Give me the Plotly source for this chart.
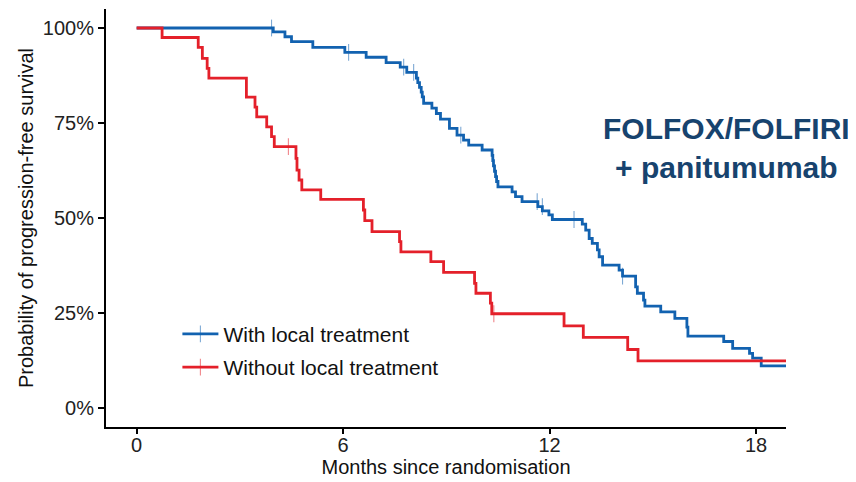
import plotly.graph_objects as go

# ---- data (months, % progression-free) ----
blue_t = [0, 3.97, 4.31, 4.50, 5.12, 6.05, 6.67, 7.25, 7.66, 7.85, 8.13, 8.17, 8.22, 8.27, 8.30,
          8.34, 8.58, 8.71, 8.83, 9.09, 9.31, 9.50, 9.65, 10.04, 10.33, 10.35, 10.37, 10.40, 10.43,
          10.46, 10.50, 10.91, 11.01, 11.20, 11.66, 11.79, 11.98, 12.08, 12.95, 13.05, 13.15, 13.24,
          13.39, 13.44, 13.54, 14.02, 14.12, 14.50, 14.55, 14.73, 14.77, 15.23, 15.64, 15.99, 16.02,
          17.06, 17.32, 17.81, 17.90, 18.15, 18.87]
blue_s = [100, 99.0, 97.7, 96.4, 94.9, 93.6, 92.3, 90.9, 89.7, 88.3, 86.8, 85.6, 84.4, 83.1, 81.9,
          80.2, 78.9, 77.5, 76.0, 73.6, 71.8, 70.5, 69.2, 67.9, 66.5, 65.1, 63.7, 62.3, 60.9,
          59.6, 58.2, 56.9, 55.6, 54.3, 53.0, 51.9, 50.8, 49.6, 48.4, 46.8, 44.6, 43.3,
          41.6, 39.8, 37.6, 36.3, 34.7, 31.9, 30.2, 28.4, 26.8, 25.3, 23.6, 21.3, 18.9,
          17.5, 15.7, 14.4, 13.1, 11.1, 11.1]
blue_cens_t = [3.92, 6.16, 7.76, 8.05, 9.42, 11.64, 11.79, 12.71, 14.12]
blue_cens_s = [100, 93.6, 89.7, 88.3, 71.8, 54.3, 53.0, 49.6, 34.7]

red_t = [0, 0.74, 1.79, 1.91, 2.05, 2.10, 3.19, 3.44, 3.49, 3.78, 3.92, 4.00, 4.63, 4.66, 4.72,
         4.80, 5.35, 6.59, 6.63, 6.84, 7.64, 7.68, 8.55, 8.92, 9.82, 9.86, 10.28, 10.32, 12.42,
         12.98, 14.27, 14.57, 18.87]
red_s = [100, 97.5, 94.9, 92.0, 89.4, 86.8, 81.8, 79.2, 76.6, 74.0, 71.4, 68.8, 65.7, 62.6, 60.0,
         57.4, 54.9, 52.1, 49.3, 46.4, 43.8, 41.1, 38.5, 35.7, 32.8, 30.2, 27.6, 24.8, 21.6,
         18.6, 15.4, 12.4, 12.4]
red_cens_t = [4.41, 10.38]
red_cens_s = [68.8, 24.8]

x_ticks = [0, 6, 12, 18]
y_ticks = [0, 25, 50, 75, 100]
y_tick_labels = ["0%", "25%", "50%", "75%", "100%"]

series_names = ["With local treatment", "Without local treatment"]
BLUE = "#1262b0"
RED = "#e4202a"

fig = go.Figure()
for i, (t, s, ct, cs, col, name) in enumerate([
    (blue_t, blue_s, blue_cens_t, blue_cens_s, BLUE, series_names[0]),
    (red_t, red_s, red_cens_t, red_cens_s, RED, series_names[1]),
]):
    fig.add_trace(go.Scatter(x=t, y=s, mode="lines", line=dict(color=col, width=2.8, shape="hv"),
                             showlegend=False, hoverinfo="skip"))
    fig.add_trace(go.Scatter(x=ct, y=cs, mode="markers",
                             marker=dict(symbol="line-ns-open", size=12, color=col,
                                         line=dict(color=col, width=1.1), opacity=0.55),
                             showlegend=False, hoverinfo="skip"))
    fig.add_trace(go.Scatter(x=[None], y=[None], mode="lines+markers", name=name,
                             legendgroup=f"g{i}",
                             line=dict(color=col, width=2.8),
                             marker=dict(symbol="line-ns-open", size=12, color=col,
                                         line=dict(color=col, width=1.1), opacity=0.55)))

FONT = "Liberation Sans, Arial, sans-serif"
# page body has an 8px margin, so the figure is sized to fit the 856x482 window
fig.update_layout(
    width=848, height=474,
    margin=dict(l=98, r=70, t=1, b=55, pad=0),
    paper_bgcolor="white", plot_bgcolor="white",
    font=dict(family=FONT, size=20, color="#222222"),
    showlegend=True,
    legend=dict(x=0.105, y=0.271, xanchor="left", yanchor="top", bgcolor="rgba(0,0,0,0)",
                font=dict(size=21, color="#111111"), traceorder="grouped", tracegroupgap=3,
                itemwidth=36),
    xaxis=dict(range=[-0.89, 18.87], tickvals=x_ticks, showgrid=False, zeroline=False,
               automargin=False, ticklabelstandoff=-6,
               showline=True, linecolor="black", linewidth=2, ticks="outside", ticklen=5,
               tickwidth=1.5, tickcolor="black",
               title=dict(text="Months since randomisation", font=dict(size=20, color="#111111"),
                          standoff=2)),
    yaxis=dict(range=[-5, 105], tickvals=y_ticks, ticktext=y_tick_labels, showgrid=False,
               automargin=False,
               zeroline=False, showline=True, linecolor="black", linewidth=2, ticks="outside",
               ticklen=6, tickwidth=1.5, tickcolor="black",
               title=dict(text="Probability of progression-free survival",
                          font=dict(size=20, color="#111111"), standoff=4)),
    annotations=[dict(text="<b>FOLFOX/FOLFIRI<br>+ panitumumab</b>", xref="paper", yref="paper",
                      x=0.912, y=0.668, xanchor="center", yanchor="middle", showarrow=False,
                      align="center",
                      font=dict(family="Liberation Sans, Arial, sans-serif",
                                size=30, color="#17436e"))],
)
fig.write_html("out.html")
